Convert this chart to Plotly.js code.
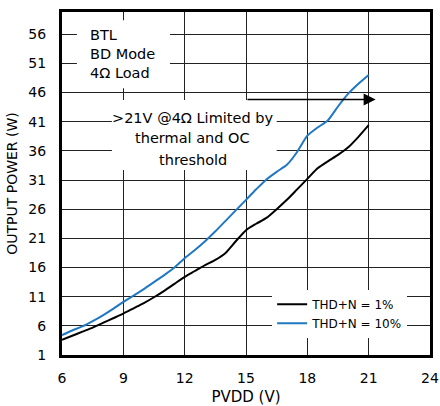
<!DOCTYPE html>
<html>
<head>
<meta charset="utf-8">
<script src="https://cdn.plot.ly/plotly-3.0.1.min.js"></script>
<style>html,body{margin:0;padding:0;background:#fff;}</style>
</head>
<body>
<div id="chart" style="width:440px;height:406px;"></div>
<script>
// PVDD (V)
const pvdd1 = [6, 6.5, 7, 7.5, 8, 8.5, 9, 9.5, 10, 10.5, 11, 11.5, 12, 12.5, 13, 13.5, 14, 14.5, 15, 15.5, 16, 16.5, 17, 17.5, 18, 18.5, 19, 19.5, 20, 20.5, 21];
const thd1 = [3.6, 4.3, 5.0, 5.7, 6.5, 7.3, 8.1, 9.0, 9.9, 10.9, 12.0, 13.2, 14.4, 15.4, 16.4, 17.3, 18.5, 20.5, 22.4, 23.5, 24.5, 26.0, 27.6, 29.4, 31.2, 33.0, 34.2, 35.3, 36.6, 38.4, 40.4];
const pvdd10 = [6, 6.5, 7, 7.5, 8, 8.5, 9, 9.5, 10, 10.5, 11, 11.5, 12, 12.5, 13, 13.5, 14, 14.5, 15, 15.5, 16, 16.5, 17, 17.5, 18, 18.5, 19, 19.5, 20, 20.5, 21];
const thd10 = [4.4, 5.2, 5.9, 6.8, 7.8, 8.9, 10.1, 11.2, 12.3, 13.5, 14.7, 16.0, 17.6, 19.0, 20.5, 22.2, 24.0, 25.8, 27.6, 29.4, 31.1, 32.4, 33.6, 35.8, 38.6, 40.0, 41.2, 43.6, 45.8, 47.5, 49.0];
const seriesNames = ["THD+N = 1%", "THD+N = 10%"];
const xTicks = [6, 9, 12, 15, 18, 21, 24];
const yTicks = [1, 6, 11, 16, 21, 26, 31, 36, 41, 46, 51, 56];
const noteBTL = "BTL<br>BD Mode<br>4Ω Load";
const noteLimitLines = [">21V @4Ω Limited by", "thermal and OC", "threshold"];
const noteLimitY = [41.56, 38.13, 34.41];

const FONT = "DejaVu Sans, sans-serif";

const traces = [
  {x: pvdd1, y: thd1, name: seriesNames[0], mode: "lines", line: {color: "#000000", width: 2, shape: "spline", smoothing: 0.6}},
  {x: pvdd10, y: thd10, name: seriesNames[1], mode: "lines", line: {color: "#1f78c1", width: 2, shape: "spline", smoothing: 0.6}}
];

const annotations = [
  {x: 7.25, y: 52.6, xref: "x", yref: "y", xanchor: "left", yanchor: "middle", align: "left",
   text: noteBTL, showarrow: false, font: {family: FONT, size: 14.5, color: "#000"}},
  {x: 21.34, y: 44.8, xref: "x", yref: "y", ax: 15, ay: 44.8, axref: "x", ayref: "y",
   text: "", showarrow: true, arrowhead: 2, arrowsize: 1.6, arrowwidth: 1.5, arrowcolor: "#000"}
];
noteLimitLines.forEach((t, i) => {
  annotations.push({x: 12.40, y: noteLimitY[i], xref: "x", yref: "y", xanchor: "center", yanchor: "middle",
    text: t, showarrow: false, font: {family: FONT, size: 14.5, color: "#000"}});
});

const layout = {
  width: 440, height: 406,
  margin: {l: 62, r: 10, t: 12, b: 51},
  paper_bgcolor: "#fff", plot_bgcolor: "#fff",
  font: {family: FONT, size: 14, color: "#000"},
  showlegend: true,
  legend: {
    x: 0.571, y: 0.19, xanchor: "left", yanchor: "top",
    bgcolor: "#fff", borderwidth: 0,
    font: {family: FONT, size: 12, color: "#000"},
    itemwidth: 30, tracegroupgap: 0
  },
  xaxis: {
    range: [6, 24], tickvals: xTicks, ticktext: xTicks.map(String),
    showgrid: true, gridcolor: "#222", gridwidth: 1,
    showline: true, linecolor: "#000", linewidth: 3, mirror: true,
    ticks: "", zeroline: false, ticklabelstandoff: 8,
    tickfont: {family: FONT, size: 14},
    title: {text: "PVDD (V)", font: {family: FONT, size: 15}, standoff: 9}
  },
  yaxis: {
    range: [1, 59.8], tickvals: yTicks, ticktext: yTicks.map(String),
    showgrid: true, gridcolor: "#222", gridwidth: 1,
    showline: true, linecolor: "#000", linewidth: 3, mirror: true,
    ticks: "", zeroline: false, ticklabelstandoff: 10,
    tickfont: {family: FONT, size: 14},
    title: {text: "OUTPUT POWER (W)", font: {family: FONT, size: 14}, standoff: 8}
  },
  shapes: [
    {type: "rect", xref: "x", yref: "y", x0: 6.73, x1: 11.28, y0: 46.75, y1: 58.4, fillcolor: "#fff", line: {width: 0}, layer: "between"},
    {type: "rect", xref: "x", yref: "y", x0: 8.44, x1: 16.5, y0: 32.7, y1: 44.7, fillcolor: "#fff", line: {width: 0}, layer: "between"}
  ],
  annotations: annotations
};

Plotly.newPlot("chart", traces, layout, {displayModeBar: false, staticPlot: true});
</script>
</body>
</html>
